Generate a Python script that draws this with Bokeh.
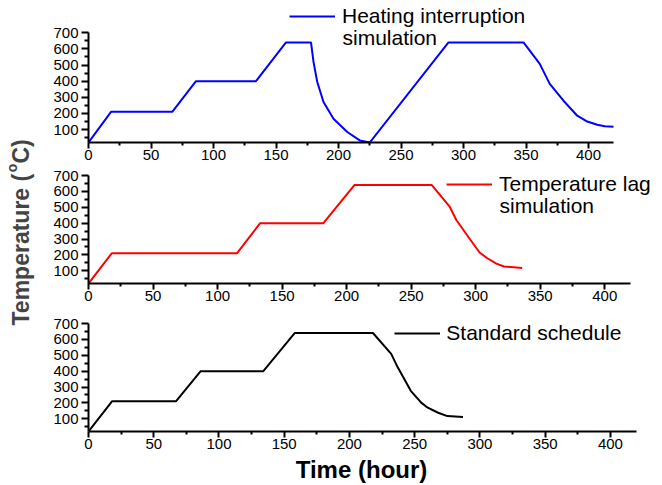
import math
from bokeh.plotting import figure
from bokeh.layouts import row, column
from bokeh.models import Range1d, FixedTicker, Label, Legend, LegendItem
from bokeh.embed import file_html
from bokeh.resources import INLINE

# ---------------- data ----------------
std_time = [0, 18, 67, 86, 134, 158, 218, 232, 237, 247, 255, 260, 268, 275, 287]
std_temp = [20, 210, 210, 400, 400, 640, 640, 509, 424, 276, 202, 170, 138, 117, 112]

lag_time = [0, 18, 115, 133, 182, 206, 266, 280, 285, 296, 303, 309, 316, 322, 336]
lag_temp = [20, 210, 210, 400, 400, 640, 640, 502, 420, 294, 215, 179, 145, 127, 117]

int_time = [0, 18, 67, 86, 134, 158, 178, 180, 183, 188, 196, 207, 217, 225,
            288, 348, 361, 369, 380, 391, 399, 407, 413, 420]
int_temp = [20, 210, 210, 400, 400, 640, 640, 520, 395, 271, 167, 85, 33, 20,
            640, 640, 507, 383, 279, 186, 150, 130, 121, 118]

x_ticks = [0, 50, 100, 150, 200, 250, 300, 350, 400]
x_minor = [25, 75, 125, 175, 225, 275, 325, 375]
y_ticks = [100, 200, 300, 400, 500, 600, 700]
y_minor = [50, 150, 250, 350, 450, 550, 650]

labels_int = ["Heating interruption", "simulation"]
labels_lag = ["Temperature lag", "simulation"]
labels_std = ["Standard schedule"]
x_title = "Time (hour)"

FONT = "Liberation Sans"
LEG_FS = 21
PW = 612          # width of each panel canvas
LB = 40           # common left border (frames are aligned in the column)


def make_panel(height, top, bottom, x_end, y_end):
    p = figure(width=PW, height=height, x_range=Range1d(0, x_end), y_range=Range1d(20, y_end),
               output_backend="svg", toolbar_location=None,
               min_border_left=LB, min_border_right=0,
               min_border_top=top, min_border_bottom=bottom)
    p.outline_line_color = None
    p.grid.visible = False
    p.xaxis.ticker = FixedTicker(ticks=x_ticks, minor_ticks=x_minor)
    p.yaxis.ticker = FixedTicker(ticks=y_ticks, minor_ticks=y_minor)
    p.xaxis.bounds = (0, 420)
    p.yaxis.bounds = (20, 700)
    for ax in (p.xaxis, p.yaxis):
        ax.axis_line_width = 2
        ax.axis_line_color = "black"
        ax.major_tick_line_width = 2
        ax.minor_tick_line_width = 2
        ax.major_tick_line_color = "black"
        ax.minor_tick_line_color = "black"
        ax.major_tick_in = 0
        ax.minor_tick_in = 0
        ax.major_label_text_font = FONT
        ax.major_label_text_font_size = "15px"
        ax.major_label_text_color = "black"
    p.xaxis.major_tick_out = 6
    p.xaxis.minor_tick_out = 3
    p.xaxis.major_label_standoff = 1
    p.yaxis.major_tick_out = 7
    p.yaxis.minor_tick_out = 4
    p.yaxis.major_label_standoff = 3
    return p


def add_legend(p, r, texts, lx, cy, standoff, line_gap=20.7):
    leg = Legend(items=[LegendItem(label=texts[0], renderers=[r])], location=(lx, cy - 12),
                 glyph_width=46, glyph_height=24, label_height=24, label_standoff=standoff,
                 padding=0, margin=0, spacing=0, border_line_color=None,
                 background_fill_alpha=0, label_text_font=FONT,
                 label_text_font_size=f"{LEG_FS}px", label_text_color="black")
    p.add_layout(leg)
    for i, t in enumerate(texts[1:], start=1):
        p.add_layout(Label(x=lx + 46 + standoff, y=cy - i * line_gap, x_units="screen",
                           y_units="screen", text=t, text_font=FONT,
                           text_font_size=f"{LEG_FS}px",
                           text_baseline="middle", text_align="left", text_color="black"))


# panel 1: heating interruption (frame extended upward to hold the legend)
p1 = make_panel(167, 0, 25, 457.6, 900)
r1 = p1.line(int_time, int_temp, line_color="#0000ff", line_width=2)
add_legend(p1, r1, labels_int, 201, 126, 7)

# panel 2: temperature lag (frame 4px taller than the 20-700 span)
p2 = make_panel(147, 4, 31, 443.2, 725.2)
r2 = p2.line(lag_time, lag_temp, line_color="#ff0000", line_width=2)
add_legend(p2, r2, labels_lag, 358, 98.7, 7)

# panel 3: standard schedule
p3 = make_panel(142, 5, 25, 438.4, 725.2)
r3 = p3.line(std_time, std_temp, line_color="black", line_width=2)
add_legend(p3, r3, labels_std, 306.3, 97.7, 6)

# x title strip under the last panel
px = figure(width=PW, height=27, x_range=Range1d(0, 1), y_range=Range1d(0, 1),
            output_backend="svg", toolbar_location=None,
            x_axis_location=None, y_axis_location=None,
            min_border_left=LB, min_border_right=0, min_border_top=0, min_border_bottom=0)
px.outline_line_color = None
px.grid.visible = False
px.add_layout(Label(x=273, y=14.5, x_units="screen", y_units="screen", text=x_title,
                    text_font=FONT, text_font_size="24px", text_font_style="bold",
                    text_align="center", text_baseline="middle", text_color="black"))

# y title column
TH = 483
pt = figure(width=48, height=TH, x_range=Range1d(0, 1), y_range=Range1d(0, 1),
            output_backend="svg", toolbar_location=None,
            x_axis_location=None, y_axis_location=None,
            min_border_left=0, min_border_right=0, min_border_top=0, min_border_bottom=0)
pt.outline_line_color = None
pt.grid.visible = False
base_x = 20
start_y = TH - 325
fs = 23
w1 = 6.668 * fs
pt.add_layout(Label(x=base_x, y=start_y, x_units="screen", y_units="screen", angle=math.pi / 2,
                    text="Temperature (", text_font=FONT, text_font_size=f"{fs}px",
                    text_font_style="bold", text_align="left", text_baseline="alphabetic"))
pt.add_layout(Label(x=base_x - 9, y=start_y + w1, x_units="screen", y_units="screen", angle=math.pi / 2,
                    text="o", text_font=FONT, text_font_size="14px",
                    text_font_style="bold", text_align="left", text_baseline="alphabetic"))
pt.add_layout(Label(x=base_x, y=start_y + w1 + 8.6, x_units="screen", y_units="screen", angle=math.pi / 2,
                    text="C)", text_font=FONT, text_font_size=f"{fs}px",
                    text_font_style="bold", text_align="left", text_baseline="alphabetic"))

layout = row(pt, column(p1, p2, p3, px))

open("out.html", "w").write(file_html(layout, INLINE))
